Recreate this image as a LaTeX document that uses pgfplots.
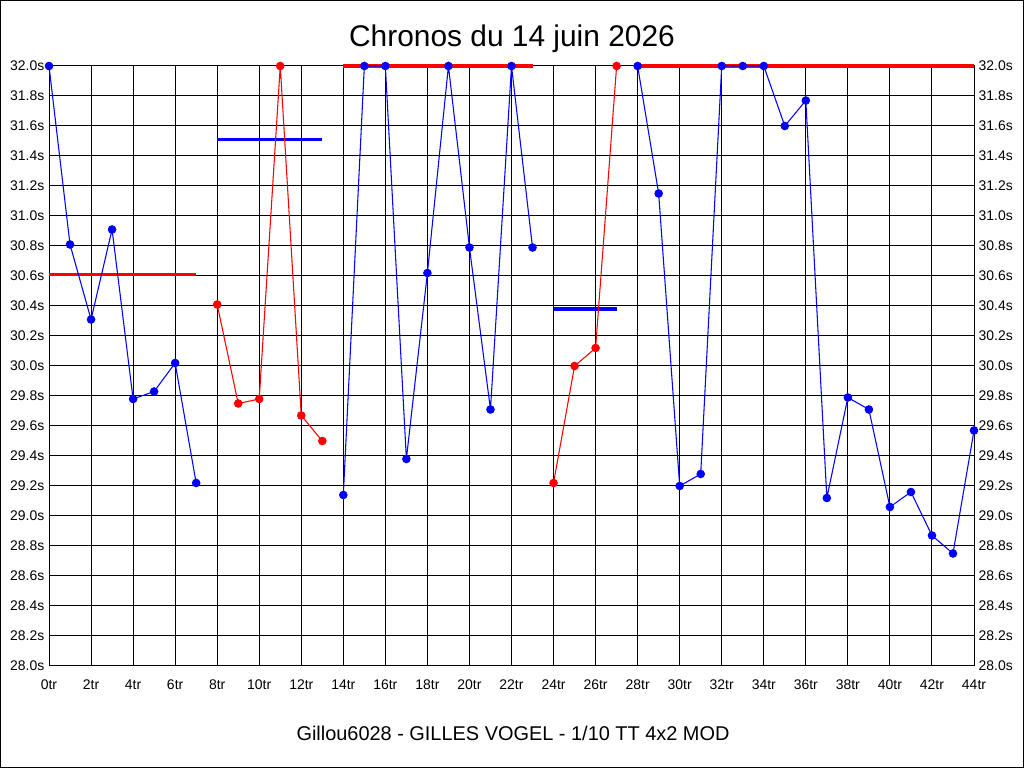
\documentclass[border=0pt]{standalone}
\usepackage{pgfplots}
\pgfplotsset{compat=1.18}
\usepackage{fontspec}
\setmainfont{Liberation Sans}
\definecolor{pblue}{RGB}{0,0,255}
\definecolor{pred}{RGB}{255,0,0}
\begin{document}
\begin{tikzpicture}
\path[use as bounding box] (0,0) rectangle (768bp,576bp);
\fill[white] (0,0) rectangle (768bp,576bp);
\draw[black,line width=0.75bp] (0.375bp,0.375bp) rectangle (767.625bp,575.625bp);
\node[anchor=base,font=\fontsize{22.5}{27}\selectfont] at (384bp,541bp) {Chronos du 14 juin 2026};
\node[anchor=base,font=\fontsize{15}{18}\selectfont] at (384.75bp,21bp) {Gillou6028 - GILLES VOGEL - 1/10 TT 4x2 MOD};
\begin{axis}[
  at={(36.75bp,76.5bp)}, anchor=south west,
  width=693.75bp, height=450bp, scale only axis,
  xmin=0, xmax=44, ymin=28, ymax=32,
  xtick={0,2,4,6,8,10,12,14,16,18,20,22,24,26,28,30,32,34,36,38,40,42,44},
  xticklabels={0tr,2tr,4tr,6tr,8tr,10tr,12tr,14tr,16tr,18tr,20tr,22tr,24tr,26tr,28tr,30tr,32tr,34tr,36tr,38tr,40tr,42tr,44tr},
  ytick={28,28.2,28.4,28.6,28.8,29,29.2,29.4,29.6,29.8,30,30.2,30.4,30.6,30.8,31,31.2,31.4,31.6,31.8,32},
  yticklabels={28.0s,28.2s,28.4s,28.6s,28.8s,29.0s,29.2s,29.4s,29.6s,29.8s,30.0s,30.2s,30.4s,30.6s,30.8s,31.0s,31.2s,31.4s,31.6s,31.8s,32.0s},
  grid=major, major grid style={black,line width=0.75bp},
  axis line style={black,line width=0.75bp},
  tick style={draw=none},
  tick label style={font=\fontsize{10.5}{12}\selectfont},
  xticklabel style={anchor=base,yshift=-17.5bp},
  clip=false,
]
% mean lines
\addplot[pred,line width=2.4bp,no marks] coordinates {(0,30.61)(7,30.61)};
\addplot[pblue,line width=2.4bp,no marks] coordinates {(8,31.51)(13,31.51)};
\addplot[pred,line width=2.4bp,no marks] coordinates {(14,32)(23,32)};
\addplot[pblue,line width=2.4bp,no marks] coordinates {(24,30.38)(27,30.38)};
\addplot[pred,line width=2.4bp,no marks] coordinates {(28,32)(44,32)};
% series
\addplot[pblue,line width=0.8bp,mark=*,mark size=2.8bp,mark options={fill=pblue,draw=pblue}] coordinates {
(0,32.0)(1,30.81)(2,30.31)(3,30.91)(4,29.78)(5,29.83)(6,30.02)(7,29.22)};
\addplot[pred,line width=0.8bp,mark=*,mark size=2.8bp,mark options={fill=pred,draw=pred}] coordinates {
(8,30.41)(9,29.75)(10,29.78)(11,32.0)(12,29.67)(13,29.50)};
\addplot[pblue,line width=0.8bp,mark=*,mark size=2.8bp,mark options={fill=pblue,draw=pblue}] coordinates {
(14,29.14)(15,32.0)(16,32.0)(17,29.38)(18,30.62)(19,32.0)(20,30.79)(21,29.71)(22,32.0)(23,30.79)};
\addplot[pred,line width=0.8bp,mark=*,mark size=2.8bp,mark options={fill=pred,draw=pred}] coordinates {
(24,29.22)(25,30.0)(26,30.12)(27,32.0)};
\addplot[pblue,line width=0.8bp,mark=*,mark size=2.8bp,mark options={fill=pblue,draw=pblue}] coordinates {
(28,32.0)(29,31.15)(30,29.20)(31,29.28)(32,32.0)(33,32.0)(34,32.0)(35,31.60)(36,31.77)(37,29.12)(38,29.79)(39,29.71)(40,29.06)(41,29.16)(42,28.87)(43,28.75)(44,29.57)};
\end{axis}
\begin{axis}[
  at={(36.75bp,76.5bp)}, anchor=south west,
  width=693.75bp, height=450bp, scale only axis,
  xmin=0, xmax=44, ymin=28, ymax=32,
  xtick=\empty,
  ytick={28,28.2,28.4,28.6,28.8,29,29.2,29.4,29.6,29.8,30,30.2,30.4,30.6,30.8,31,31.2,31.4,31.6,31.8,32},
  yticklabels={28.0s,28.2s,28.4s,28.6s,28.8s,29.0s,29.2s,29.4s,29.6s,29.8s,30.0s,30.2s,30.4s,30.6s,30.8s,31.0s,31.2s,31.4s,31.6s,31.8s,32.0s},
  yticklabel pos=right,
  axis line style={draw=none},
  tick style={draw=none},
  tick label style={font=\fontsize{10.5}{12}\selectfont},
]
\end{axis}
\end{tikzpicture}
\end{document}
